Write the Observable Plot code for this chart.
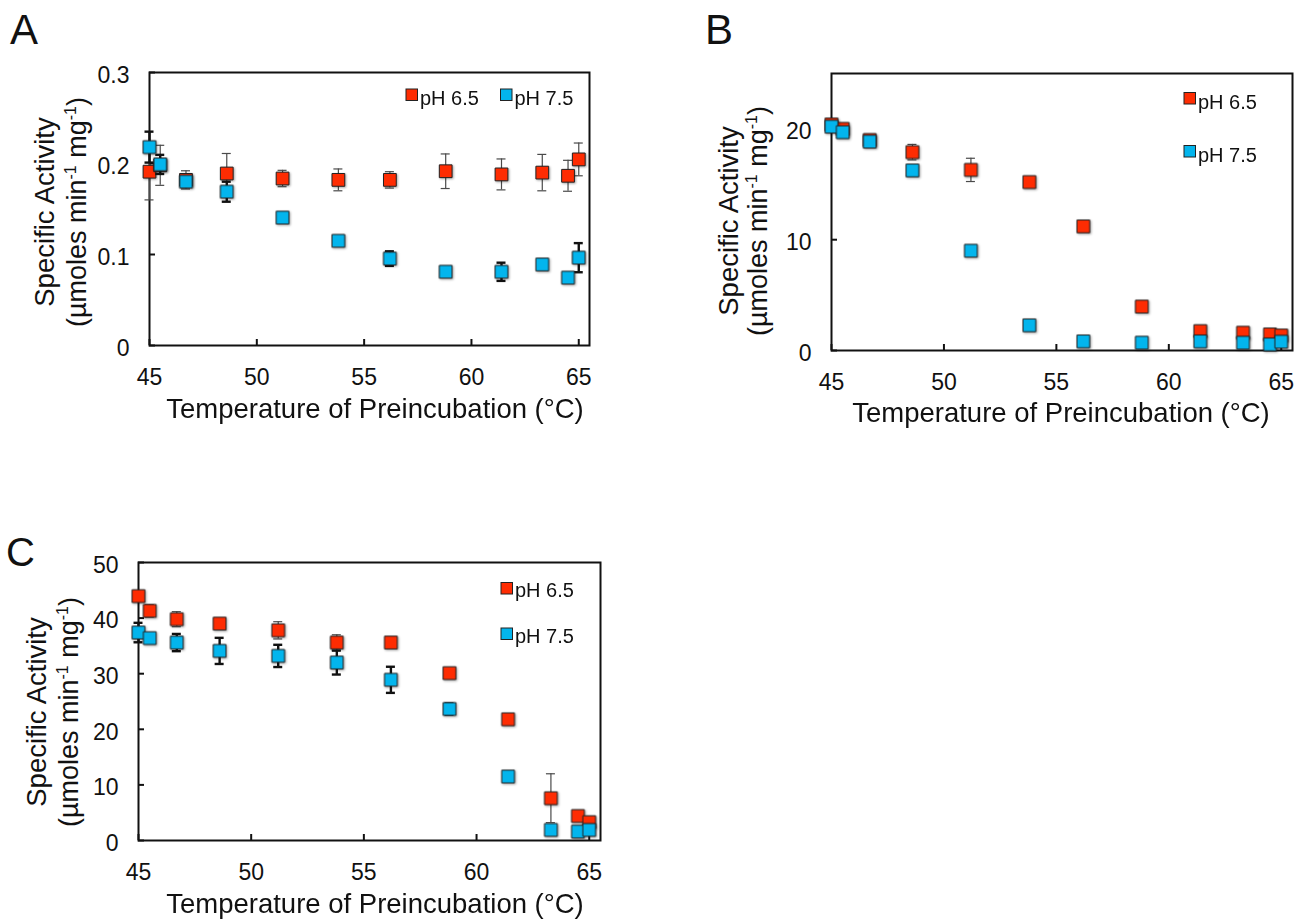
<!DOCTYPE html>
<html>
<head>
<meta charset="utf-8">
<script src="https://cdn.jsdelivr.net/npm/d3@7"></script>
<script src="https://cdn.jsdelivr.net/npm/@observablehq/plot@0.6"></script>
<style>
  body { margin: 0; background: #fff; }
  #root { position: relative; width: 1297px; height: 922px; overflow: hidden; background: #fff;
          font-family: "Liberation Sans", Arial, Helvetica, sans-serif; }
  .panel { position: absolute; }
  .panel svg { overflow: visible; }
</style>
</head>
<body>
<div id="root"></div>
<script>
// ---------- data ----------
const temps = [45, 45.5, 46.7, 48.6, 51.2, 53.8, 56.2, 58.8, 61.4, 63.3, 64.5, 65];
const seriesNames = ["pH 6.5", "pH 7.5"];
const seriesColors = ["#fe2c02", "#03b5ed"];

// Panel A
const aPH65 = [0.191, 0.198, 0.182, 0.189, 0.1835, 0.182, 0.182, 0.1915, 0.188, 0.190, 0.1865, 0.2045];
const aPH65Err = [0.031, 0.022, 0.010, 0.022, 0.009, 0.012, 0.009, 0.019, 0.017, 0.020, 0.017, 0.018];
const aPH75 = [0.218, 0.199, 0.180, 0.169, 0.1405, 0.115, 0.0955, 0.081, 0.081, 0.089, 0.0745, 0.0965];
const aPH75Err = [0.017, 0.0105, 0.003, 0.011, 0.002, 0.003, 0.008, 0.002, 0.010, 0.005, 0.003, 0.016];

// Panel B
const bPH65 = [20.4, 20.0, 19.0, 17.9, 16.3, 15.2, 11.2, 3.96, 1.75, 1.6, 1.45, 1.35];
const bPH65Err = [0, 0, 0, 0.7, 1.05, 0, 0, 0, 0, 0, 0, 0];
const bPH75 = [20.2, 19.7, 18.85, 16.25, 9.0, 2.27, 0.82, 0.7, 0.82, 0.7, 0.55, 0.79];
const bPH75Err = [0, 0, 0, 0.4, 0, 0, 0, 0, 0, 0, 0, 0];

// Panel C
const cPH65 = [43.95, 41.3, 39.8, 39.0, 37.8, 35.6, 35.6, 30.1, 21.8, 7.6, 4.4, 3.3];
const cPH65Err = [0, 1.1, 1.35, 0, 1.55, 1.4, 0, 0, 0, 4.4, 0, 0];
const cPH75 = [37.4, 36.4, 35.6, 34.1, 33.2, 32.0, 28.9, 23.65, 11.5, 1.9, 1.6, 1.9];
const cPH75Err = [1.75, 0, 1.55, 2.35, 2.0, 2.15, 2.35, 1.0, 0, 0, 0, 0];

// ticks & labels
const xDomain = [45, 65.5];
const xTicks = [45, 50, 55, 60, 65];
const yTicksA = [0, 0.1, 0.2, 0.3];
const yTicksB = [0, 10, 20];
const yTicksC = [0, 10, 20, 30, 40, 50];
const panelLetters = ["A", "B", "C"];
const xTitle = "Temperature of Preincubation (°C)";
const yTitleLine1 = "Specific Activity";
const yTitleLine2Parts = ["(µmoles min", "-1", " mg", "-1", ")"];

// ---------- drawing ----------
const root = d3.select("#root");
const FONT = "'Liberation Sans', Arial, Helvetica, sans-serif";

function rowsOf(vals, errs) {
  return temps.map((t, i) => ({t, v: vals[i], e: errs[i]}));
}

function errMarks(rows, stroke, sw, cap) {
  const d = rows.filter(r => r.e > 0);
  return [
    Plot.ruleX(d, {x: "t", y1: r => r.v - r.e, y2: r => r.v + r.e, stroke, strokeWidth: sw}),
    Plot.ruleY(d, {y: r => r.v + r.e, x1: "t", x2: "t", insetLeft: -cap, insetRight: -cap, stroke, strokeWidth: sw}),
    Plot.ruleY(d, {y: r => r.v - r.e, x1: "t", x2: "t", insetLeft: -cap, insetRight: -cap, stroke, strokeWidth: sw})
  ];
}

function makePanel(cfg) {
  const r65 = rowsOf(cfg.v65, cfg.e65);
  const r75 = rowsOf(cfg.v75, cfg.e75);
  const svg = Plot.plot({
    width: cfg.width, height: cfg.height,
    marginLeft: cfg.ml, marginRight: cfg.mr, marginTop: cfg.mt, marginBottom: cfg.mb,
    x: {domain: xDomain},
    y: {domain: cfg.yDomain},
    style: {fontFamily: FONT, fontSize: "23px", background: "transparent", color: "#111", overflow: "visible"},
    marks: [
      Plot.frame({stroke: "#111", strokeWidth: 2}),
      Plot.ruleX(xTicks, {x: d => d, y1: cfg.yDomain[0], y2: cfg.yDomain[0], insetBottom: 6, stroke: "#111", strokeWidth: 2}),
      Plot.ruleY(cfg.yTicks, {y: d => d, x1: xDomain[0], x2: xDomain[0], insetRight: -6, stroke: "#111", strokeWidth: 2}),
      Plot.axisX(xTicks, {tickSize: 0, tickPadding: cfg.xPad, fontSize: 23, label: null, tickFormat: d => String(d)}),
      Plot.axisY(cfg.yTicks, {tickSize: 0, tickPadding: 20, fontSize: 23, label: null, dy: 3, tickFormat: d => String(d)}),
      ...errMarks(r65, "#4a4a4a", 1.2, 4.5),
      Plot.dot(r65, {x: "t", y: "v", symbol: "square", r: 7.2, fill: seriesColors[0], stroke: "#222", strokeWidth: 1}),
      ...errMarks(r75, "#111", 2.4, 4.5),
      Plot.dot(r75, {x: "t", y: "v", symbol: "square", r: 7.2, fill: seriesColors[1], stroke: "#222", strokeWidth: 1})
    ]
  });
  const div = root.append("div").attr("class", "panel")
    .style("left", cfg.left + "px").style("top", cfg.top + "px");
  div.node().appendChild(svg);
  const s = d3.select(svg);
  s.selectAll("g[aria-label=dot]").style("filter", "drop-shadow(1px 1px 1px rgba(0,0,0,0.35))");
  s.selectAll("g[aria-label$='tick label']").style("font-size", "23px").attr("font-size", 23);

  const g = s.append("g").style("font-family", FONT).attr("fill", "#111").attr("text-anchor", "start");
  // panel letter
  g.append("text").attr("x", cfg.letter[0]).attr("y", cfg.letter[1]).attr("text-anchor", "start")
    .style("font-size", cfg.letter[2] + "px").text(cfg.name);
  // y title (two lines)
  g.append("text").attr("transform", `translate(${cfg.yt1},${cfg.ytc}) rotate(-90)`)
    .attr("text-anchor", "middle").style("font-size", "27.5px").text(yTitleLine1);
  const t2 = g.append("text").attr("transform", `translate(${cfg.yt2},${cfg.ytc}) rotate(-90)`)
    .attr("text-anchor", "middle").style("font-size", "27px");
  yTitleLine2Parts.forEach((p, i) => {
    const sup = i === 1 || i === 3;
    const after = i === 2 || i === 4;
    const ts = t2.append("tspan").text(p);
    if (sup) ts.attr("dy", -10).style("font-size", "16px");
    if (after) ts.attr("dy", 10);
  });
  // x title
  g.append("text").attr("x", cfg.xtx).attr("y", cfg.xty).attr("text-anchor", "middle")
    .style("font-size", "27.5px").text(xTitle);
  // legend
  cfg.legend.forEach((L, i) => {
    g.append("rect").attr("x", L[0]).attr("y", L[1]).attr("width", 11.5).attr("height", 11.5)
      .attr("fill", seriesColors[i]).attr("stroke", "#222").attr("stroke-width", 1);
    g.append("text").attr("x", L[0] + 14).attr("y", L[1] + L[2]).attr("text-anchor", "start")
      .style("font-size", "20px").text(seriesNames[i]);
  });
}

makePanel({
  name: panelLetters[0], left: 0, top: 0, width: 640, height: 440,
  ml: 149, mr: 51, mt: 72, mb: 95, yDomain: [0, 0.3], yTicks: yTicksA, xPad: 23,
  v65: aPH65, e65: aPH65Err, v75: aPH75, e75: aPH75Err,
  letter: [10, 44, 42], yt1: 54, yt2: 86, ytc: 212, xtx: 375, xty: 418,
  legend: [[406, 89, 16], [500.5, 89, 16]]
});
makePanel({
  name: panelLetters[1], left: 680, top: 0, width: 617, height: 440,
  ml: 151, mr: 5, mt: 73, mb: 90, yDomain: [0, 25], yTicks: yTicksB, xPad: 23,
  v65: bPH65, e65: bPH65Err, v75: bPH75, e75: bPH75Err,
  letter: [25, 44, 42], yt1: 58, yt2: 87, ytc: 221, xtx: 381, xty: 422,
  legend: [[504, 92.5, 16], [504, 145.5, 16]]
});
makePanel({
  name: panelLetters[2], left: 0, top: 470, width: 640, height: 452,
  ml: 138, mr: 40, mt: 92, mb: 82, yDomain: [0, 50], yTicks: yTicksC, xPad: 23,
  v65: cPH65, e65: cPH65Err, v75: cPH75, e75: cPH75Err,
  letter: [6, 96, 40], yt1: 46, yt2: 78, ytc: 242, xtx: 375, xty: 443,
  legend: [[501, 112.5, 14.5], [501, 158, 14.5]]
});
</script>
</body>
</html>
